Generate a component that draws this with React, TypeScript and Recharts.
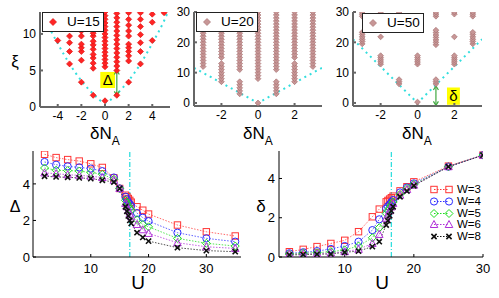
import React from 'react';
import {
  ComposedChart,
  XAxis,
  YAxis,
  Line,
  Scatter,
  ReferenceLine,
  ReferenceArea,
  Legend,
} from 'recharts';

// top row: level positions xi against dN_A, one list of xi per dN_A column
const nA15 = [-5, -4, -3, -2, -1, 0, 1, 2, 3, 4, 5];
const xi15 = [
  [12.9],
  [9.1, 11.7],
  [5.9, 7.6, 8.8, 9.7, 10.8, 11.7, 13.0],
  [3.4, 6.4, 7.6, 8.1, 8.6, 9.7, 10.4, 11.2, 12.0, 12.9],
  [1.6, 5.3, 6.0, 6.7, 7.2, 7.9, 8.5, 9.0, 9.7, 10.1, 10.6, 11.0, 11.7, 12.4, 12.9],
  [0.85, 5.5, 6.0, 6.5, 7.0, 7.5, 8.0, 8.5, 9.0, 9.5, 10.0, 10.5, 11.0, 11.5, 12.0, 12.5, 13.0],
  [1.6, 5.0, 5.6, 6.2, 6.8, 7.4, 8.0, 8.6, 9.2, 9.8, 10.4, 11.0, 11.6, 12.2, 12.8],
  [3.4, 6.3, 7.0, 7.6, 8.1, 8.6, 9.7, 10.4, 11.2, 12.0, 12.9],
  [5.9, 7.6, 8.8, 9.9, 11.0, 12.0, 12.9],
  [9.1, 11.6, 12.7],
  [12.9],
];
const edgeN15 = [-5.4, -5, -4, -3, -2, -1, 0, 1, 2, 3, 4, 5, 5.4];
const edgeXi15 = [13.3, 11.8, 8.7, 5.9, 3.6, 1.8, 0.6, 1.8, 3.6, 5.9, 8.7, 11.8, 13.3];

const nA20 = [-3, -2, -1, 0, 1, 2, 3];
const xi20 = [
  [12, 13, 14, 15, 16, 17, 18, 19, 20, 21, 22, 23, 24, 25, 26, 27, 28, 29, 30],
  [7, 8, 9, 10, 11, 12, 13, 15, 16, 17, 18, 19, 20, 21, 22, 23, 24, 25, 26, 27, 28, 29, 30],
  [3, 4, 5, 6, 7, 11, 12, 13, 14, 15, 16, 17, 18, 19, 20, 21, 22, 23, 24, 25, 26, 27, 28, 29, 30],
  [0, 8, 9, 10, 11, 12, 13, 14, 15, 16, 17, 18, 19, 20, 21, 22, 23, 24, 25, 26, 27, 28, 29, 30],
  [3, 4, 5, 6, 7, 11, 12, 13, 14, 15, 16, 17, 18, 19, 20, 21, 22, 23, 24, 25, 26, 27, 28, 29, 30],
  [7, 8, 9, 10, 11, 12, 13, 15, 16, 17, 18, 19, 20, 21, 22, 23, 24, 25, 26, 27, 28, 29, 30],
  [12, 13, 14, 15, 16, 17, 18, 19, 20, 21, 22, 23, 24, 25, 26, 27, 28, 29, 30],
];
const edgeN20 = [-3.5, 0, 3.5];
const edgeXi20 = [11.6, 0, 11.6];

const nA50 = [-3, -2, -1, 0, 1, 2, 3];
const xi50 = [
  [19.5, 20.3, 21.0, 21.8, 22.6, 23.3, 28.6, 29.3, 30.0],
  [12.8, 13.5, 14.2, 14.9, 15.6, 21.8, 29.3, 30.0],
  [6.3, 7.0, 7.7, 29.5, 30.0],
  [0.3, 12.8, 13.5, 14.2, 14.9, 15.6],
  [6.3, 7.0, 7.7, 19.2, 20.0, 20.8, 21.6, 22.4, 23.2, 24.0, 28.6, 29.3, 30.0],
  [12.8, 13.5, 14.2, 14.9, 15.6, 21.8, 29.3, 30.0],
  [19.5, 20.3, 21.0, 21.8, 22.6, 23.3, 28.6, 29.3, 30.0],
];
const edgeN50 = [-3.5, 0, 3.5];
const edgeXi50 = [21, 0, 21];

// bottom left: gap Delta vs U
const uGap = [2, 4, 6, 8, 10, 12, 14, 15, 16, 16.25, 16.5, 16.75, 17, 18, 19, 20, 25, 30, 35];
const gapW3 = [5.62, 5.44, 5.33, 5.25, 5.1, 4.9, 4.33, 3.75, 3.38, 3.3, 3.2, 3.1, 3.0, 2.75, 2.56, 2.35, 1.75, 1.38, 1.15];
const gapW4 = [5.2, 5.05, 4.96, 4.9, 4.84, 4.7, 4.35, 3.75, 3.3, 3.15, 3.0, 2.9, 2.8, 2.4, 2.15, 1.96, 1.33, 1.02, 0.84];
const gapW5 = [4.87, 4.75, 4.73, 4.7, 4.62, 4.53, 4.25, 3.75, 3.1, 2.95, 2.8, 2.65, 2.56, 2.05, 1.78, 1.65, 1.02, 0.75, 0.6];
const gapW6 = [4.6, 4.56, 4.5, 4.47, 4.42, 4.35, 4.2, 3.75, 2.93, 2.75, 2.55, 2.35, 2.2, 1.78, 1.49, 1.29, 0.78, 0.56, 0.47];
const gapW8 = [4.42, 4.38, 4.36, 4.33, 4.29, 4.2, 4.1, 3.75, 2.75, 2.5, 2.25, 2.0, 1.84, 1.33, 1.07, 0.87, 0.51, 0.35, 0.29];

// bottom right: delta vs U
const uSmall = [2, 4, 6, 8, 10, 12, 14, 15, 16, 16.25, 16.5, 16.75, 17, 18, 19, 20, 25, 30];
const smallW3 = [0.27, 0.39, 0.53, 0.69, 0.85, 1.29, 2.05, 2.44, 2.81, 2.88, 2.95, 3.02, 3.1, 3.37, 3.58, 3.83, 4.63, 5.19];
const smallW4 = [0.19, 0.24, 0.3, 0.41, 0.56, 0.78, 1.37, 1.92, 2.47, 2.58, 2.68, 2.8, 2.9, 3.29, 3.54, 3.75, 4.6, 5.19];
const smallW5 = [0.15, 0.19, 0.22, 0.27, 0.36, 0.56, 0.98, 1.49, 2.22, 2.36, 2.5, 2.65, 2.8, 3.19, 3.49, 3.7, 4.6, 5.19];
const smallW6 = [0.14, 0.15, 0.17, 0.2, 0.27, 0.39, 0.69, 1.15, 1.97, 2.15, 2.35, 2.55, 2.73, 3.15, 3.44, 3.66, 4.6, 5.19];
const smallW8 = [0.1, 0.12, 0.14, 0.15, 0.24, 0.3, 0.53, 0.78, 1.63, 1.85, 2.1, 2.35, 2.56, 3.07, 3.36, 3.63, 4.6, 5.19];

const wNames = ['W=3', 'W=4', 'W=5', 'W=6', 'W=8'];
const uCritical = 16.75;

const series = [
  { key: 'w3', color: '#ff3535', kind: 'square' },
  { key: 'w4', color: '#2c2cff', kind: 'circle' },
  { key: 'w5', color: '#1fdc1f', kind: 'diamond' },
  { key: 'w6', color: '#b030d8', kind: 'triangle' },
  { key: 'w8', color: '#111111', kind: 'cross' },
];

const toPoints = (ns: number[], xis: number[][]) =>
  ns.flatMap((n, i) => xis[i].map((v) => ({ x: n, y: v })));
const toLine = (ns: number[], vs: number[]) => ns.map((n, i) => ({ x: n, y: vs[i] }));

const pts15 = toPoints(nA15, xi15);
const pts20 = toPoints(nA20, xi20);
const pts50 = toPoints(nA50, xi50);
const edge15 = toLine(edgeN15, edgeXi15);
const edge20 = toLine(edgeN20, edgeXi20);
const edge50 = toLine(edgeN50, edgeXi50);

const gapRows = uGap.map((u, i) => ({
  x: u, w3: gapW3[i], w4: gapW4[i], w5: gapW5[i], w6: gapW6[i], w8: gapW8[i],
}));
const smallRows = uSmall.map((u, i) => ({
  x: u, w3: smallW3[i], w4: smallW4[i], w5: smallW5[i], w6: smallW6[i], w8: smallW8[i],
}));

const cyan = '#33dede';
const green = '#3fa83f';

function Mark({ kind, cx, cy, color }: any) {
  if (cx == null || cy == null) return null;
  const r = 3.2;
  if (kind === 'square')
    return <rect x={cx - r} y={cy - r} width={2 * r} height={2 * r} fill="none" stroke={color} strokeWidth={1} />;
  if (kind === 'circle') return <circle cx={cx} cy={cy} r={3.6} fill="none" stroke={color} strokeWidth={1} />;
  if (kind === 'diamond')
    return (
      <polygon
        points={`${cx},${cy - 4} ${cx + 4},${cy} ${cx},${cy + 4} ${cx - 4},${cy}`}
        fill="none" stroke={color} strokeWidth={1}
      />
    );
  if (kind === 'triangle')
    return (
      <polygon
        points={`${cx},${cy - 4} ${cx + 3.8},${cy + 3} ${cx - 3.8},${cy + 3}`}
        fill="none" stroke={color} strokeWidth={1}
      />
    );
  return (
    <path
      d={`M${cx - 2.6},${cy - 2.6}L${cx + 2.6},${cy + 2.6}M${cx - 2.6},${cy + 2.6}L${cx + 2.6},${cy - 2.6}`}
      stroke={color} strokeWidth={1.6}
    />
  );
}

const diamond = (fill: string, stroke: string, h: number) => (p: any) => {
  if (p.cx == null) return <g />;
  const { cx, cy } = p;
  return (
    <polygon
      points={`${cx},${cy - h} ${cx + h},${cy} ${cx},${cy + h} ${cx - h},${cy}`}
      fill={fill} stroke={stroke} strokeWidth={0.7}
    />
  );
};

const redPt = diamond('#ff2424', '#e01010', 3.0);
const rosePt = diamond('#c79696', '#a87272', 2.9);

const arrowShape = (p: any) => {
  const x = p.x1;
  const top = Math.min(p.y1, p.y2);
  const bot = Math.max(p.y1, p.y2);
  return (
    <g>
      <line x1={x} y1={top} x2={x} y2={bot} stroke={green} strokeWidth={1.2} />
      <path d={`M${x - 2.5},${top + 4}L${x},${top}L${x + 2.5},${top + 4}`} fill="none" stroke={green} strokeWidth={1.2} />
      <path d={`M${x - 2.5},${bot - 4}L${x},${bot}L${x + 2.5},${bot - 4}`} fill="none" stroke={green} strokeWidth={1.2} />
    </g>
  );
};

function frameAxes(
  xd: number[], yd: number[], xt: number[], yt: number[],
  yW: number, xH: number, stroke: string, sw: number, xm: number, ym: number, fs: number,
) {
  const line = { stroke, strokeWidth: sw };
  const tick = { fill: '#000', fontSize: fs };
  return [
    <XAxis key="xb" dataKey="x" type="number" domain={xd} ticks={xt} allowDataOverflow interval={0}
      height={xH} tickSize={-3} tickMargin={xm} axisLine={line} tickLine={line} tick={tick} />,
    <XAxis key="xt" xAxisId="t" orientation="top" dataKey="x" type="number" domain={xd} ticks={xt}
      allowDataOverflow interval={0} height={0} tickSize={-3} tickFormatter={() => ''} axisLine={line} tickLine={line} />,
    <YAxis key="yl" dataKey="y" type="number" domain={yd} ticks={yt} allowDataOverflow interval={0}
      width={yW} tickSize={-3} tickMargin={ym} axisLine={line} tickLine={line} tick={tick} />,
    <YAxis key="yr" yAxisId="r" orientation="right" type="number" domain={yd} ticks={yt} allowDataOverflow
      interval={0} width={0} tickSize={-3} tickFormatter={() => ''} axisLine={line} tickLine={line} />,
  ];
}

const topKey = (fill: string, stroke: string) => (props: any) => {
  const item = (props.payload || []).find((e: any) => e.type !== 'none');
  return (
    <div style={{ position: 'relative', width: 62, height: 20, boxSizing: 'border-box', border: '1.5px solid #222', background: '#fff' }}>
      <svg width={14} height={14} style={{ position: 'absolute', left: 3, top: 2 }}>
        <polygon points="7,3.5 10.5,7 7,10.5 3.5,7" fill={fill} stroke={stroke} strokeWidth={0.7} />
      </svg>
      <span style={{ position: 'absolute', left: 24, top: 1, fontSize: 13.5, lineHeight: '16px', color: '#000' }}>
        {item ? item.value : ''}
      </span>
    </div>
  );
};

const wKey = (props: any) => {
  const items = (props.payload || []).filter((e: any) => e.type !== 'none');
  return (
    <div>
      {items.map((e: any, i: number) => {
        const s = series[i];
        return (
          <div key={e.value} style={{ display: 'flex', alignItems: 'center', height: 11.7 }}>
            <svg width={25} height={11} style={{ display: 'block' }}>
              <line x1={4} y1={5.5} x2={19} y2={5.5} stroke={s.color} strokeWidth={1} strokeDasharray="1.5 1.5" />
              <Mark kind={s.kind} cx={4} cy={5.5} color={s.color} />
              <Mark kind={s.kind} cx={19} cy={5.5} color={s.color} />
            </svg>
            <span style={{ fontSize: 11.5, lineHeight: '11px', marginLeft: 2, color: '#000' }}>{e.value}</span>
          </div>
        );
      })}
    </div>
  );
};

function Title({ x, y, size, children }: any) {
  return (
    <div style={{ position: 'absolute', left: x, top: y, transform: 'translate(-50%, -50%)', fontSize: size, lineHeight: 1, whiteSpace: 'nowrap', color: '#000' }}>
      {children}
    </div>
  );
}

function NA({ x }: { x: number }) {
  return (
    <Title x={x} y={133} size={17}>
      δN<span style={{ fontSize: 12, position: 'relative', top: 6 }}>A</span>
    </Title>
  );
}

function bottomLines(rows: any[]) {
  return series.map((s, i) => (
    <Line
      key={s.key}
      data={rows}
      dataKey={s.key}
      name={wNames[i]}
      type="linear"
      stroke={s.color}
      strokeOpacity={0.75}
      strokeWidth={1}
      strokeDasharray="1.5 1.5"
      isAnimationActive={false}
      dot={(p: any) => <Mark key={`${s.key}-${p.index}`} kind={s.kind} cx={p.cx} cy={p.cy} color={s.color} />}
    />
  ));
}

export default function App() {
  const legendCenter = { layout: 'vertical' as const, align: 'center' as const, verticalAlign: 'middle' as const };
  return (
    <div style={{ position: 'absolute', left: 0, top: 0, width: 499, height: 298, background: '#fff', fontFamily: '"Liberation Sans", Arial, sans-serif', overflow: 'hidden' }}>
      <div style={{ position: 'absolute', left: 0, top: 0 }}>
        <ComposedChart width={175} height={125} margin={{ top: 12, right: 5, left: 8, bottom: 2 }}>
          {frameAxes([-5.5, 5.5], [0, 13], [-4, -2, 0, 2, 4], [0, 5, 10], 32, 16, '#666', 2, 7, 7, 12)}
          <Line data={edge15} dataKey="y" type="monotone" stroke={cyan} strokeWidth={2} strokeDasharray="2 4"
            dot={false} isAnimationActive={false} legendType="none" />
          <Scatter data={pts15} name="U=15" shape={redPt} isAnimationActive={false} />
          <ReferenceArea x1={-0.4} x2={0.85} y1={2.6} y2={4.8} fill="#ffff00" fillOpacity={1} stroke="none"
            label={{ value: 'Δ', position: 'center', fontSize: 15, fill: '#000' }} />
          <ReferenceLine segment={[{ x: 1, y: 1.6 }, { x: 1, y: 5.0 }]} shape={arrowShape} />
          <Legend {...legendCenter} content={topKey('#ff2424', '#e01010')} wrapperStyle={{ left: 42, top: 12, width: 62 }} />
        </ComposedChart>
      </div>

      <div style={{ position: 'absolute', left: 160, top: 0 }}>
        <ComposedChart width={167} height={125} margin={{ top: 12, right: 5, left: 8, bottom: 3 }}>
          {frameAxes([-3.5, 3.5], [-1, 30], [-2, 0, 2], [0, 10, 20, 30], 26, 16, '#666', 2, 7, 7, 12)}
          <Line data={edge20} dataKey="y" type="linear" stroke={cyan} strokeWidth={2} strokeDasharray="2 4"
            dot={false} isAnimationActive={false} legendType="none" />
          <Scatter data={pts20} name="U=20" shape={rosePt} isAnimationActive={false} />
          <Legend {...legendCenter} content={topKey('#c79696', '#a87272')} wrapperStyle={{ left: 36, top: 12, width: 62 }} />
        </ComposedChart>
      </div>

      <div style={{ position: 'absolute', left: 320, top: 0 }}>
        <ComposedChart width={167} height={125} margin={{ top: 12, right: 5, left: 7, bottom: 3 }}>
          {frameAxes([-3.5, 3.5], [-1, 30], [-2, 0, 2], [0, 10, 20, 30], 26, 16, '#666', 2, 7, 7, 12)}
          <Line data={edge50} dataKey="y" type="linear" stroke={cyan} strokeWidth={2} strokeDasharray="2 4"
            dot={false} isAnimationActive={false} legendType="none" />
          <Scatter data={pts50} name="U=50" shape={rosePt} isAnimationActive={false} />
          <ReferenceArea x1={1.6} x2={2.3} y1={-0.6} y2={5.1} fill="#ffff00" fillOpacity={1} stroke="none"
            label={{ value: 'δ', position: 'center', fontSize: 15, fill: '#000' }} />
          <ReferenceLine segment={[{ x: 1, y: -0.8 }, { x: 1, y: 5.6 }]} shape={arrowShape} />
          <Legend {...legendCenter} content={topKey('#c79696', '#a87272')} wrapperStyle={{ left: 42, top: 13, width: 62 }} />
        </ComposedChart>
      </div>

      <div style={{ position: 'absolute', left: 0, top: 140 }}>
        <ComposedChart width={246} height={158} margin={{ top: 11, right: 5, left: 5, bottom: 23 }}>
          {frameAxes([0, 36], [0, 5.8], [10, 20, 30], [0, 2, 4], 28, 18, '#000', 1, 10, 6, 13)}
          <ReferenceLine x={uCritical} stroke={cyan} strokeWidth={1.3} strokeDasharray="5 2 1 2" />
          {bottomLines(gapRows)}
        </ComposedChart>
      </div>

      <div style={{ position: 'absolute', left: 246, top: 140 }}>
        <ComposedChart width={253} height={158} margin={{ top: 11, right: 16, left: 5, bottom: 23 }}>
          {frameAxes([0.5, 30], [0, 5.4], [10, 20, 30], [0, 2, 4], 28, 18, '#000', 1, 10, 7, 13)}
          <ReferenceLine x={uCritical} stroke={cyan} strokeWidth={1.3} strokeDasharray="5 2 1 2" />
          {bottomLines(smallRows)}
          <Legend {...legendCenter} content={wKey} wrapperStyle={{ left: 184, top: 44, width: 62 }} />
        </ComposedChart>
      </div>

      <Title x={15} y={61} size={17}>ξ</Title>
      <NA x={105} />
      <NA x={258} />
      <NA x={417} />
      <Title x={15} y={207} size={16}>Δ</Title>
      <Title x={138} y={282} size={19}>U</Title>
      <Title x={261} y={206} size={17}>δ</Title>
      <Title x={382} y={282} size={19}>U</Title>
    </div>
  );
}
